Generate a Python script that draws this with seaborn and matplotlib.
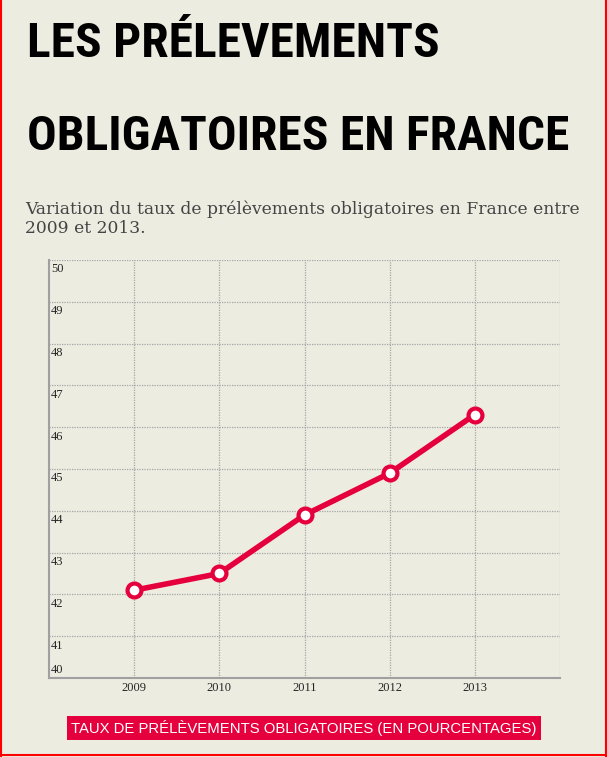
import matplotlib
matplotlib.use('Agg')
import matplotlib.pyplot as plt
from matplotlib import font_manager
from matplotlib.lines import Line2D
import seaborn as sns
import pandas as pd

# donnees
annees = [2009, 2010, 2011, 2012, 2013]
taux = [42.1, 42.5, 43.9, 44.9, 46.3]
yticks = [40, 41, 42, 43, 44, 45, 46, 47, 48, 49, 50]

titre = ['LES PRÉLEVEMENTS', 'OBLIGATOIRES EN FRANCE']
sous_titre = 'Variation du taux de prélèvements obligatoires en France entre\n2009 et 2013.'
legende = 'TAUX DE PRÉLÈVEMENTS OBLIGATOIRES (EN POURCENTAGES)'

fond = '#edece1'
rouge = '#e5003d'

sns.set_style('white')

# police etroite pour le titre si on en trouve une
polices = font_manager.fontManager.ttflist
noms = {f.name for f in polices}
police_titre, etirement = 'DejaVu Sans', 'normal'
for nom in ['Roboto Condensed', 'Open Sans Condensed', 'Liberation Sans Narrow']:
    if nom in noms:
        police_titre = nom
        break
else:
    if any(f.name == 'DejaVu Sans' and f.stretch == 'condensed' for f in polices):
        etirement = 'condensed'

df = pd.DataFrame({'annee': annees, 'taux': taux})

fig = plt.figure(figsize=(6.07, 7.57), dpi=100, facecolor=fond)
ax = fig.add_axes([49/607, 1-678/757, 511/607, 418/757])
ax.set_facecolor(fond)

sns.lineplot(data=df, x='annee', y='taux', ax=ax, color=rouge, linewidth=4,
             marker='o', markersize=10, markerfacecolor='white',
             markeredgecolor=rouge, markeredgewidth=3, zorder=5)

ax.set_xlim(2008, 2014)
ax.set_ylim(40, 50)
ax.set_xticks(annees + [2014])
ax.set_xticklabels([str(a) for a in annees] + [''], family='Liberation Serif', fontsize=9)
ax.set_yticks(yticks)
ax.set_yticklabels([])
ax.tick_params(length=0, pad=3)
ax.set_xlabel('')
ax.set_ylabel('')
ax.grid(True, color='#a5a5a5', linestyle=(0, (1, 1)), linewidth=0.9)
for s in ['top', 'right']:
    ax.spines[s].set_visible(False)
for s in ['left', 'bottom']:
    ax.spines[s].set_color('#a0a0a0')
    ax.spines[s].set_linewidth(1.5)

# etiquettes y a l'interieur du graphique
tr = ax.get_yaxis_transform()
for v in yticks:
    if v == 40:
        ax.text(0.004, v + 0.05, str(v), transform=tr, ha='left', va='bottom',
                family='Liberation Serif', fontsize=9)
    else:
        ax.text(0.004, v - 0.08, str(v), transform=tr, ha='left', va='top',
                family='Liberation Serif', fontsize=9)

# titre : taille ajustee pour que la 2e ligne fasse ~541 px de large
renderer = fig.canvas.get_renderer()
t_test = fig.text(0, 0, titre[1], family=police_titre, fontweight='bold',
                  fontstretch=etirement, fontsize=40)
largeur = t_test.get_window_extent(renderer).width
t_test.remove()
taille = 40 * 541 / largeur
for ligne, base in zip(titre, [57, 150]):
    fig.text(27/607, 1-base/757, ligne, family=police_titre, fontweight='bold',
             fontstretch=etirement, fontsize=taille, color='black',
             ha='left', va='baseline')

fig.text(25/607, 1-200/757, sous_titre, family='DejaVu Serif', fontsize=12.3,
         color='#444444', ha='left', va='top', linespacing=1.2)
fig.text(304/607, 1-728/757, legende, family='Liberation Sans', fontsize=10.7,
         color='white', ha='center', va='center',
         bbox=dict(boxstyle='square,pad=0.3', facecolor=rouge, edgecolor='none'))

# bordure rouge
for xs, ys in [([0.001, 0.001], [0, 1]), ([0.998, 0.998], [0, 1]), ([0, 1], [0.002, 0.002])]:
    fig.add_artist(Line2D(xs, ys, color='red', linewidth=1.5, transform=fig.transFigure))

fig.savefig('out.png', dpi=100, facecolor=fond)
